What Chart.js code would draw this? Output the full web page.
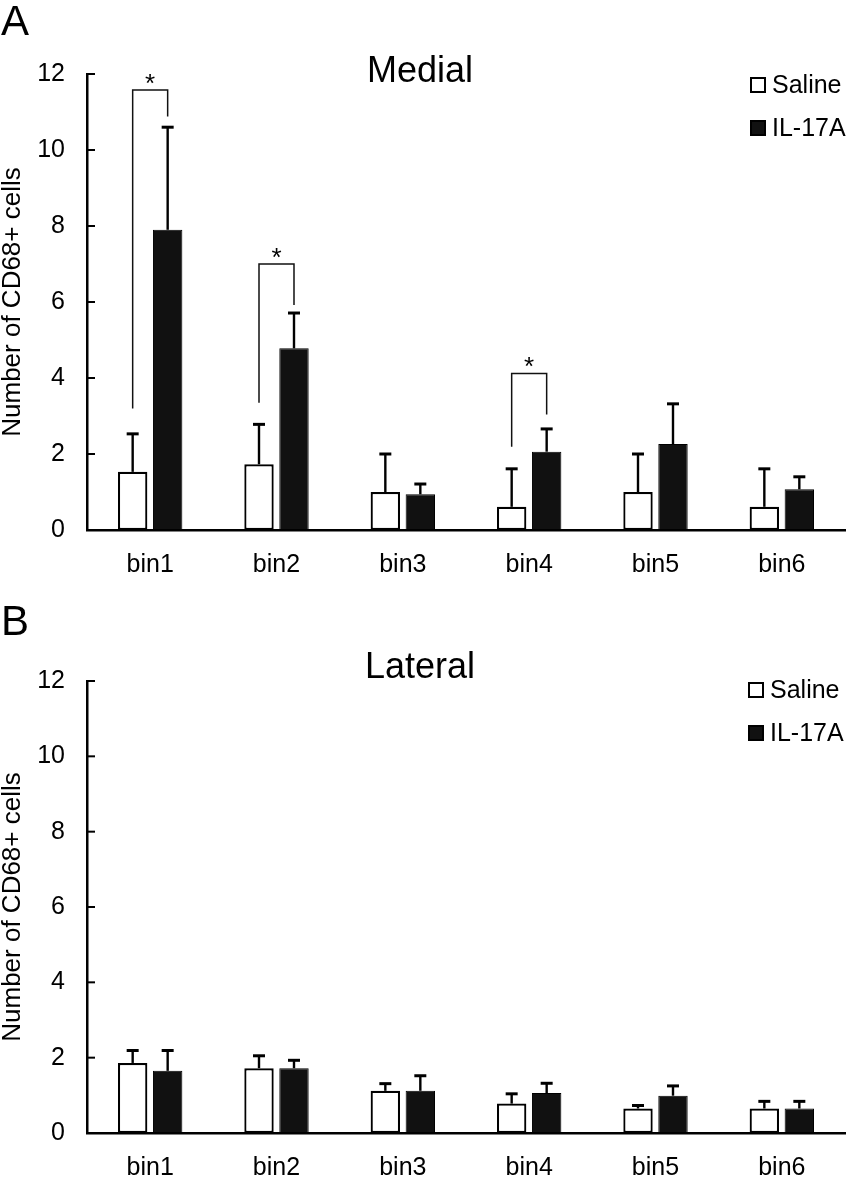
<!DOCTYPE html>
<html><head><meta charset="utf-8">
<script src="https://cdn.jsdelivr.net/npm/chart.js@4.4.0/dist/chart.umd.min.js"></script>
<style>
html,body{margin:0;padding:0;background:#fff;}
#wrapA{position:absolute;left:0;top:0;width:851px;height:595px;}
#wrapB{position:absolute;left:0;top:595px;width:851px;height:583px;}
canvas{display:block;}
</style></head><body>
<div id="wrapA"><canvas id="chartA" width="851" height="595"></canvas></div>
<div id="wrapB"><canvas id="chartB" width="851" height="583"></canvas></div>
<script>
// ---- data ----
const categories = ['bin1', 'bin2', 'bin3', 'bin4', 'bin5', 'bin6'];
const seriesNames = ['Saline', 'IL-17A'];
const yTicks = [0, 2, 4, 6, 8, 10, 12];
const yTitle = 'Number of CD68+ cells';

const medialSaline    = [1.53, 1.73, 1.00, 0.61, 1.00, 0.61];
const medialSalineErr = [1.00, 1.05, 1.00, 1.00, 1.00, 1.00];
const medialIL        = [7.90, 4.78, 0.94, 2.06, 2.26, 1.07];
const medialILErr     = [2.70, 0.93, 0.27, 0.60, 1.06, 0.33];

const lateralSaline    = [1.86, 1.72, 1.12, 0.78, 0.65, 0.65];
const lateralSalineErr = [0.33, 0.33, 0.19, 0.26, 0.08, 0.19];
const lateralIL        = [1.65, 1.72, 1.12, 1.06, 0.99, 0.65];
const lateralILErr     = [0.54, 0.21, 0.40, 0.26, 0.26, 0.19];

// significance brackets (medial panel): bin index, saline-side end, top, IL-side end
const sigBins      = [0, 1, 3];
const sigSalineEnd = [3.20, 3.35, 2.19];
const sigTop       = [11.58, 7.00, 4.12];
const sigILEnd     = [10.88, 5.92, 3.04];
const sigMark = '*';

// ---- rendering ----
const FONT = "'Liberation Sans', Arial, Helvetica, sans-serif";
Chart.defaults.font.family = FONT;
Chart.defaults.color = '#000';

function makeChart(canvasId, cfg) {
  const decor = {
    id: 'decor' + canvasId,
    afterDatasetsDraw(chart) {
      const ctx = chart.ctx;
      const ys = chart.scales.y;
      ctx.save();
      ctx.strokeStyle = '#000';
      ctx.lineCap = 'butt';
      chart.data.datasets.forEach((ds, d) => {
        const meta = chart.getDatasetMeta(d);
        meta.data.forEach((bar, i) => {
          const top = ys.getPixelForValue(ds.data[i] + ds.errors[i]);
          ctx.lineWidth = 2.4;
          ctx.beginPath();
          ctx.moveTo(bar.x, bar.y);
          ctx.lineTo(bar.x, top);
          ctx.stroke();
          ctx.lineWidth = 3;
          ctx.beginPath();
          ctx.moveTo(bar.x - 6, top);
          ctx.lineTo(bar.x + 6, top);
          ctx.stroke();
        });
      });
      if (cfg.sig) {
        const m0 = chart.getDatasetMeta(0), m1 = chart.getDatasetMeta(1);
        ctx.lineWidth = 1.5;
        ctx.strokeStyle = '#111';
        cfg.sig.bins.forEach((b, k) => {
          const x0 = m0.data[b].x, x1 = m1.data[b].x;
          const yA = ys.getPixelForValue(cfg.sig.a[k]);
          const yT = ys.getPixelForValue(cfg.sig.top[k]);
          const yB = ys.getPixelForValue(cfg.sig.b[k]);
          ctx.beginPath();
          ctx.moveTo(x0, yA); ctx.lineTo(x0, yT); ctx.lineTo(x1, yT); ctx.lineTo(x1, yB);
          ctx.stroke();
          ctx.fillStyle = '#000';
          ctx.font = '26px ' + FONT;
          ctx.textAlign = 'center';
          ctx.textBaseline = 'alphabetic';
          ctx.fillText(sigMark, (x0 + x1) / 2, yT + 2);
        });
      }
      ctx.restore();
    },
    afterDraw(chart) {
      const ctx = chart.ctx;
      const ys = chart.scales.y;
      const area = chart.chartArea;
      ctx.save();
      ctx.strokeStyle = '#000';
      ctx.lineWidth = 2;
      ys.ticks.forEach(t => {
        const y = ys.getPixelForValue(t.value);
        ctx.beginPath();
        ctx.moveTo(area.left, y);
        ctx.lineTo(area.left + 8, y);
        ctx.stroke();
      });
      ctx.fillStyle = '#000';
      ctx.textAlign = 'left';
      ctx.textBaseline = 'alphabetic';
      ctx.font = '42px ' + FONT;
      ctx.fillText(cfg.letter, 1, cfg.letterY);
      ctx.textAlign = 'center';
      ctx.font = '36px ' + FONT;
      ctx.fillText(cfg.title, 420, cfg.titleY);
      ctx.font = '25px ' + FONT;
      ctx.textAlign = 'left';
      ctx.textBaseline = 'middle';
      chart.data.datasets.forEach((ds, d) => {
        const cy = cfg.legendY + d * 43;
        const bx = cfg.legendX;
        ctx.fillStyle = ds.backgroundColor;
        ctx.fillRect(bx, cy - 8, 16, 16);
        ctx.lineWidth = 2;
        ctx.strokeStyle = '#000';
        ctx.strokeRect(bx + 1, cy - 7, 14, 14);
        ctx.fillStyle = '#000';
        ctx.fillText(ds.label, bx + 22, cy + 1);
      });
      ctx.restore();
    }
  };

  return new Chart(document.getElementById(canvasId), {
    type: 'bar',
    data: {
      labels: categories,
      datasets: [
        { label: seriesNames[0], data: cfg.saline, errors: cfg.salineErr,
          backgroundColor: '#ffffff', borderColor: '#000', borderWidth: 2.2, borderSkipped: false },
        { label: seriesNames[1], data: cfg.il, errors: cfg.ilErr,
          backgroundColor: '#111111', borderColor: '#000', borderWidth: 1, borderSkipped: false }
      ]
    },
    options: {
      responsive: false,
      animation: false,
      devicePixelRatio: 1,
      categoryPercentage: 0.554,
      barPercentage: 0.84,
      layout: { padding: { top: cfg.padTop, right: 6, bottom: 0, left: 0 } },
      plugins: { legend: { display: false }, title: { display: false }, tooltip: { enabled: false } },
      scales: {
        x: {
          grid: { display: false, drawTicks: false },
          border: { display: true, color: '#000', width: 2.5 },
          ticks: { padding: 20, font: { size: 25 }, color: '#000' },
          afterFit(s) { s.height = cfg.xHeight; }
        },
        y: {
          min: 0, max: 12,
          grid: { display: false, drawTicks: false },
          border: { display: true, color: '#000', width: 2.5 },
          ticks: { padding: 22, font: { size: 25 }, color: '#000' },
          afterBuildTicks(s) { s.ticks = yTicks.map(v => ({ value: v })); },
          title: { display: true, text: yTitle, font: { size: 26, lineHeight: 1 }, padding: { top: 0, bottom: 0 }, color: '#000' },
          afterFit(s) { s.width = 87; }
        }
      }
    },
    plugins: [decor]
  });
}

makeChart('chartA', {
  saline: medialSaline, salineErr: medialSalineErr, il: medialIL, ilErr: medialILErr,
  sig: { bins: sigBins, a: sigSalineEnd, top: sigTop, b: sigILEnd },
  padTop: 74, xHeight: 65,
  letter: 'A', letterY: 35, title: 'Medial', titleY: 82,
  legendX: 750, legendY: 85
});
makeChart('chartB', {
  saline: lateralSaline, salineErr: lateralSalineErr, il: lateralIL, ilErr: lateralILErr,
  sig: null,
  padTop: 86, xHeight: 45,
  letter: 'B', letterY: 40, title: 'Lateral', titleY: 83,
  legendX: 748, legendY: 95
});
</script>
</body></html>
